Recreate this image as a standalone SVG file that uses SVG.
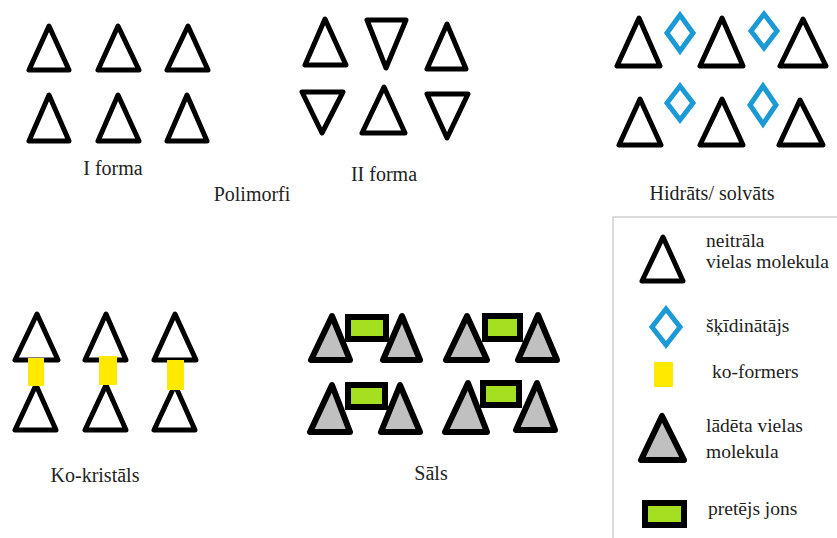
<svg xmlns="http://www.w3.org/2000/svg" width="837" height="538" viewBox="0 0 837 538">
<style>
.t{fill:#fff;stroke:#000;stroke-width:5;stroke-linejoin:round}
.g{fill:#c0c0c0;stroke:#000;stroke-width:6;stroke-linejoin:round}
.d{fill:none;stroke:#1c9ad6;stroke-width:5}
.y{fill:#ffe900}
.r{fill:#a4e01f;stroke:#000;stroke-width:6}
text{font-family:"Liberation Serif","Times New Roman",serif;font-size:20px;fill:#222}
.c{text-anchor:middle}
.l{font-size:19.5px}
</style>
<rect width="837" height="538" fill="#fff"/>
<g id="forma1">
<polygon class="t" points="49,26 29,70 69,70"/>
<polygon class="t" points="118,26 98,70 139,70"/>
<polygon class="t" points="188,26 167,70 208,70"/>
<polygon class="t" points="49,95 29,141 69,141"/>
<polygon class="t" points="118,95 98,141 139,141"/>
<polygon class="t" points="187,95 167,141 207,141"/>
<text class="c" x="113" y="175">I forma</text>
</g>
<g id="forma2">
<polygon class="t" points="325,19 305,65 346,65"/>
<polygon class="t" points="367,20 406,20 386,68"/>
<polygon class="t" points="447,24 427,69 466,69"/>
<polygon class="t" points="302,92 343,92 322,133"/>
<polygon class="t" points="384,87 362,133 405,133"/>
<polygon class="t" points="427,94 468,94 447,138"/>
<text class="c" x="384" y="181">II forma</text>
</g>
<g id="polimorfi">
<text class="c" x="252" y="201">Polimorfi</text>
</g>
<g id="hidrats">
<polygon class="t" points="639,18 617,66 660,66"/>
<polygon class="t" points="722,18 700,66 743,66"/>
<polygon class="t" points="803,19 780,66 826,66"/>
<polygon class="t" points="640,99 619,145 661,145"/>
<polygon class="t" points="722,99 700,145 743,145"/>
<polygon class="t" points="800,100 779,145 823,145"/>
<polygon class="d" points="680,15 693,33 680,51 667,33"/>
<polygon class="d" points="764,14 777,31 764,48 751,31"/>
<polygon class="d" points="680,86 693,103 680,120 667,103"/>
<polygon class="d" points="763,86 776,105 763,124 750,105"/>
<text class="c" x="712" y="200">Hidrāts/ solvāts</text>
</g>
<g id="kokristals">
<polygon class="t" points="37,314 15,360 58,360"/>
<polygon class="t" points="106,314 85,360 126,360"/>
<polygon class="t" points="175,314 154,360 196,360"/>
<polygon class="t" points="36,385 15,430 56,430"/>
<polygon class="t" points="106,385 85,430 126,430"/>
<polygon class="t" points="175,385 154,430 195,430"/>
<rect class="y" x="28" y="358" width="16" height="28"/>
<rect class="y" x="99" y="356" width="18" height="29"/>
<rect class="y" x="167" y="360" width="17" height="30"/>
<text class="c" x="95" y="482">Ko-kristāls</text>
</g>
<g id="sals">
<rect class="r" x="348" y="317" width="38" height="22"/>
<polygon class="g" points="332,316 311,360 350,360"/>
<polygon class="g" points="402,316 383,360 420,360"/>
<rect class="r" x="485" y="316" width="35" height="23"/>
<polygon class="g" points="467,316 446,360 487,360"/>
<polygon class="g" points="538,315 518,360 557,360"/>
<rect class="r" x="348" y="385" width="37" height="22"/>
<polygon class="g" points="332,385 310,432 350,432"/>
<polygon class="g" points="400,385 381,432 420,432"/>
<rect class="r" x="483" y="383" width="36" height="22"/>
<polygon class="g" points="468,383 445,432 487,432"/>
<polygon class="g" points="537,383 516,430 555,430"/>
<text class="c" x="431" y="480">Sāls</text>
</g>
<g id="legend">
<path d="M613,538 V217 H837" fill="none" stroke="#d0d0d0" stroke-width="1.5"/>
<polygon class="t" points="663,237 642,281 683,281"/>
<text class="l" x="706" y="247">neitrāla</text>
<text class="l" x="706" y="268">vielas molekula</text>
<polygon class="d" points="666,309 680,327 666,345 652,327"/>
<text class="l" x="706" y="332">šķīdinātājs</text>
<rect class="y" x="654" y="362" width="19" height="25"/>
<text class="l" x="712" y="378">ko-formers</text>
<polygon class="g" points="662,416 641,460 684,460"/>
<text class="l" x="706" y="432">lādēta vielas</text>
<text class="l" x="706" y="458">molekula</text>
<rect class="r" x="645" y="503" width="39" height="22"/>
<text class="l" x="708" y="515">pretējs jons</text>
</g>
</svg>
